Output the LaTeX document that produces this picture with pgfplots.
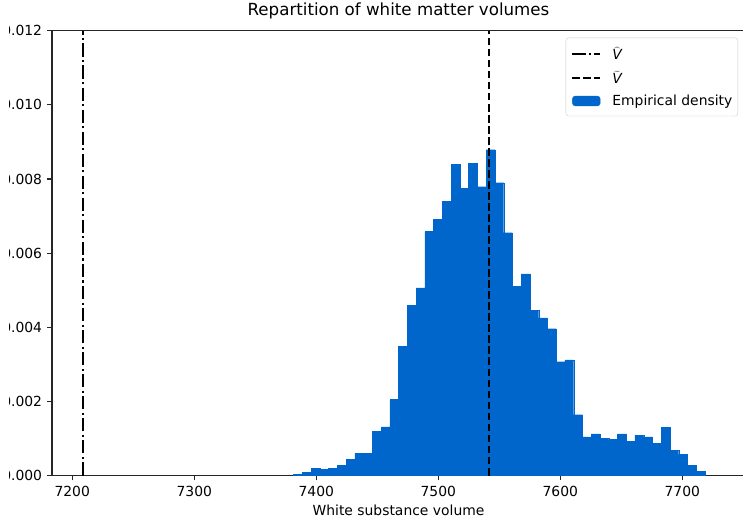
\documentclass[border=0pt]{standalone}
\usepackage{fontspec}
\setmainfont{DejaVu Sans}
\usepackage{pgfplots}
\pgfplotsset{compat=1.18}
\definecolor{barblue}{RGB}{0,102,204}
\pgfplotsset{
  vhatleg/.style={legend image code/.code={\draw[black, line width=2.08pt, dash pattern=on 13.3pt off 3.33pt on 2.08pt off 3.33pt] (0pt,0pt) -- (27.8pt,0pt);}},
  vtilleg/.style={legend image code/.code={\draw[black, line width=2.08pt, dash pattern=on 7.7pt off 3.33pt] (0pt,0pt) -- (27.8pt,0pt);}},
  barleg/.style={legend image code/.code={\fill[barblue] (0pt,-4.85pt) rectangle (27.8pt,4.85pt);}},
}
\begin{document}
\begin{tikzpicture}
\begin{scope}
\clip (-42.5pt,-43.5pt) rectangle (691pt,475.5pt);
\begin{axis}[
  at={(0pt,0pt)}, anchor=south west,
  scale only axis, width=693pt, height=444.8pt,
  xmin=7183.4, xmax=7751.4, ymin=0, ymax=0.012,
  xtick={7200,7300,7400,7500,7600,7700},
  ytick={0,0.002,0.004,0.006,0.008,0.010,0.012},
  scaled y ticks=false,
  /pgf/number format/assume math mode=true,
  xticklabel style={/pgf/number format/1000 sep={}, anchor=north, inner sep=0pt, yshift=-5.3pt},
  yticklabel style={/pgf/number format/.cd, fixed, fixed zerofill, precision=3, /tikz/.cd, anchor=east, inner sep=0pt, xshift=-4.86pt},
  every tick label/.append style={font=\fontsize{13.9}{16}\selectfont},
  tick pos=left, tick align=outside,
  major tick length=4.86pt,
  every tick/.style={black!85, line width=1.11pt},
  axis line style={black!85, line width=1.11pt},
  title={Repartition of white matter volumes},
  title style={font=\fontsize{16.67}{20}\selectfont, at={(axis description cs:0.5,1)}, anchor=base, inner sep=0pt, yshift=8.7pt},
  xlabel={White substance volume},
  xlabel style={font=\fontsize{13.9}{16}\selectfont, at={(axis description cs:0.5,0)}, anchor=base, inner sep=0pt, yshift=-39.7pt},
  legend style={at={(axis description cs:0.98997,0.98434)}, anchor=north east, draw=black!20, fill=white, rounded corners=2.8pt, font=\fontsize{13.9}{16}\selectfont, inner xsep=5.5pt, inner ysep=8pt, row sep=7.5pt,
    nodes={inner xsep=0pt, inner ysep=1pt},
    /tikz/every odd column/.append style={column sep=11.1pt}},
  legend cell align=left,
]
\addlegendimage{vhatleg}
\addlegendentry{$\widehat{\mbox{\itshape V}}$}
\addlegendimage{vtilleg}
\addlegendentry{$\widetilde{\mbox{\itshape V}}$}
\addlegendimage{barleg}
\addlegendentry{Empirical density}
\addplot[ybar interval, fill=barblue, draw=barblue, line width=0.3pt, forget plot] table[x=x, y=y] {
x y
7381.40 0.00004
7388.57 0.00009
7395.75 0.00020
7402.92 0.00016
7410.10 0.00020
7417.27 0.00027
7424.44 0.00044
7431.62 0.00060
7438.79 0.00060
7445.97 0.00119
7453.14 0.00131
7460.31 0.00205
7467.49 0.00348
7474.66 0.00459
7481.84 0.00506
7489.01 0.00658
7496.18 0.00691
7503.36 0.00739
7510.53 0.00839
7517.71 0.00774
7524.88 0.00842
7532.05 0.00779
7539.23 0.00879
7546.40 0.00790
7553.58 0.00655
7560.75 0.00511
7567.92 0.00544
7575.10 0.00445
7582.27 0.00425
7589.45 0.00396
7596.62 0.00307
7603.79 0.00312
7610.97 0.00164
7618.14 0.00104
7625.32 0.00112
7632.49 0.00100
7639.66 0.00097
7646.84 0.00112
7654.01 0.00093
7661.19 0.00108
7668.36 0.00104
7675.53 0.00086
7682.71 0.00130
7689.88 0.00068
7697.06 0.00057
7704.23 0.00027
7711.40 0.00011
7718.58 0.00011
};
\addplot[black, line width=2.08pt, dash pattern=on 13.3pt off 3.33pt on 2.08pt off 3.33pt, forget plot] coordinates {(7208.5,0) (7208.5,0.012)};
\addplot[black, line width=2.08pt, dash pattern=on 7.7pt off 3.33pt, forget plot] coordinates {(7541.9,0) (7541.9,0.012)};
\end{axis}
\end{scope}
\pgfresetboundingbox
\useasboundingbox (-52pt,-43.5pt) rectangle (691pt,475.5pt);
\end{tikzpicture}
\end{document}
